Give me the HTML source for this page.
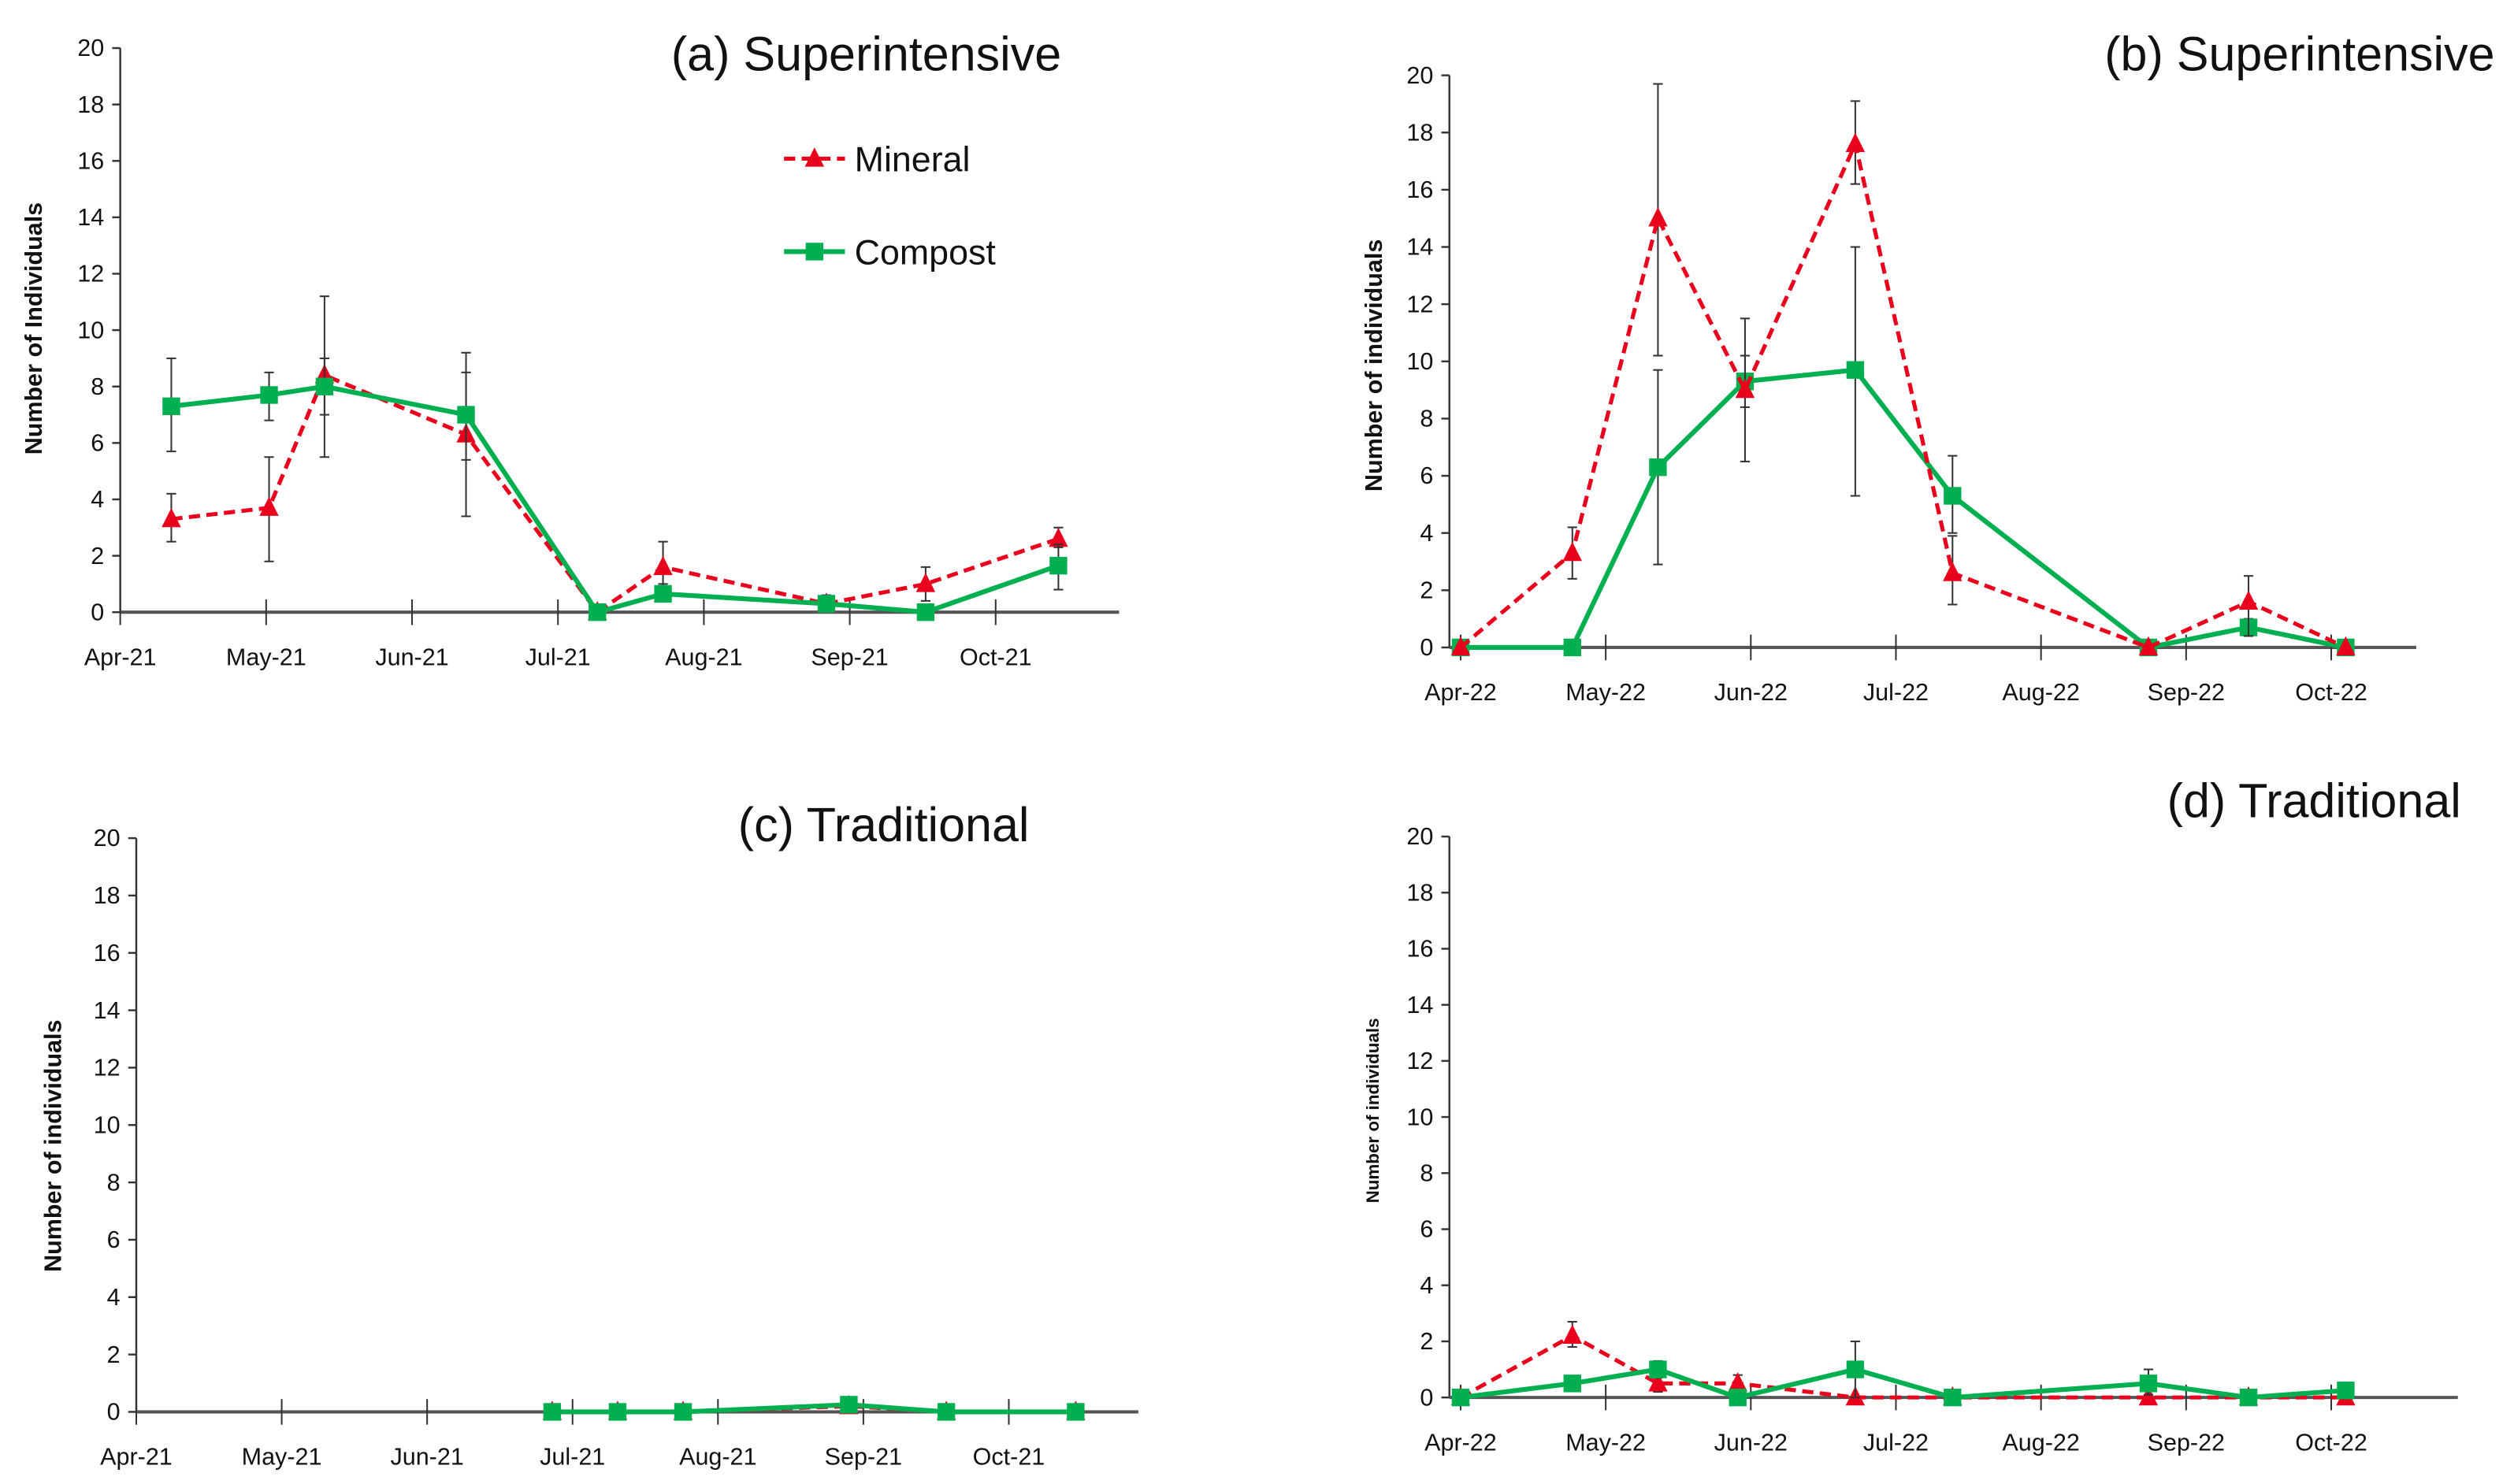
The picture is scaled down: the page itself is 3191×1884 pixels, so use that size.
<!DOCTYPE html>
<html><head><meta charset="utf-8"><style>
html,body{margin:0;padding:0;background:#fff;}
svg{display:block;}
text{font-family:"Liberation Sans Narrow","Liberation Sans",sans-serif;fill:#111;}
</style></head><body>
<svg id="fig" width="3191" height="1884" viewBox="0 0 1568 926" preserveAspectRatio="none" xmlns="http://www.w3.org/2000/svg"></svg>
<script>
// ---- Data (x in months since April) ----
const monthLabels21 = ["Apr-21","May-21","Jun-21","Jul-21","Aug-21","Sep-21","Oct-21"];
const monthLabels22 = ["Apr-22","May-22","Jun-22","Jul-22","Aug-22","Sep-22","Oct-22"];
const yTicks = [0,2,4,6,8,10,12,14,16,18,20];

const aDates = [0.35,1.02,1.4,2.37,3.27,3.72,4.84,5.52,6.43];
const aMineral = [3.3,3.7,8.4,6.3,0,1.6,0.3,1.0,2.6];
const aMineralLo = [2.5,1.8,5.5,3.4,0,0.7,0.3,0.4,2.3];
const aMineralHi = [4.2,5.5,11.2,8.5,0,2.5,0.6,1.6,3.0];
const aCompost = [7.3,7.7,8.0,7.0,0,0.65,0.3,0,1.65];
const aCompostLo = [5.7,6.8,7.0,5.4,0,0.5,0.2,0,0.8];
const aCompostHi = [9.0,8.5,9.0,9.2,0,1.0,0.6,0,2.4];

const bDates = [0,0.77,1.36,1.96,2.72,3.39,4.74,5.43,6.1];
const bMineral = [0,3.3,15,9,17.6,2.6,0,1.6,0];
const bMineralLo = [0,2.4,10.2,6.5,16.2,1.5,0,0.4,0];
const bMineralHi = [0,4.2,19.7,11.5,19.1,3.9,0,2.5,0];
const bCompost = [0,0,6.3,9.3,9.7,5.3,0,0.7,0];
const bCompostLo = [0,0,2.9,8.4,5.3,4.0,0,0.4,0];
const bCompostHi = [0,0,9.7,10.2,14.0,6.7,0,1.0,0];

const cDates = [2.86,3.31,3.76,4.9,5.57,6.46];
const cMineral = [0,0,0,0.2,0,0];
const cCompost = [0,0,0,0.25,0,0];
const cCompostLo = [0,0,0,0.15,0,0];
const cCompostHi = [0,0,0,0.35,0,0];

const dDates = [0,0.77,1.36,1.91,2.72,3.39,4.74,5.43,6.1];
const dMineral = [0,2.2,0.5,0.5,0,0,0,0,0];
const dMineralLo = [0,1.8,0.2,0.2,0,0,0,0,0];
const dMineralHi = [0,2.7,0.8,0.8,0,0,0,0,0];
const dCompost = [0,0.5,1.0,0,1.0,0,0.5,0,0.25];
const dCompostLo = [0,0.3,0.7,0,0,0,0.1,0,0.1];
const dCompostHi = [0,0.7,1.3,0,2.0,0,1.0,0,0.4];

const NS="http://www.w3.org/2000/svg";
const svg=document.getElementById('fig');
const RED="#e8001c", GREEN="#00b050";
function mk(tag,attrs,parent){const e=document.createElementNS(NS,tag);for(const k in attrs)e.setAttribute(k,attrs[k]);(parent||svg).appendChild(e);return e;}

function panel(id,p){
  const g=mk('g',{});
  
  
  const X=m=>p.mx0+m*p.mw;
  const Y=v=>p.y0-(v/20)*(p.y0-p.y20);
  // axes
  const ya=mk('line',{x1:p.x0,y1:p.y20,x2:p.x0,y2:p.y0,stroke:'#333','stroke-width':1.2},g);
  
  
  const xa=mk('line',{x1:p.x0,y1:p.y0,x2:p.xEnd,y2:p.y0,stroke:'#555','stroke-width':2},g);
  
  
  yTicks.forEach(t=>{
    mk('line',{x1:p.x0-5,y1:Y(t),x2:p.x0,y2:Y(t),stroke:'#333','stroke-width':1.2},g);
    const tx=mk('text',{x:p.x0-10,y:Y(t)+5,'text-anchor':'end','font-size':15},g);
    tx.textContent=t;
    
    
  });
  p.labels.forEach((l,i)=>{
    const x=X(i);
    mk('line',{x1:x,y1:p.y0-8,x2:x,y2:p.y0+8,stroke:'#333','stroke-width':1},g);
    const tx=mk('text',{x:x,y:p.y0+33,'text-anchor':'middle','font-size':15},g);
    tx.textContent=l;
    
    
  });
  const yt=mk('text',{x:0,y:0,'text-anchor':'middle','font-size':p.ytSize,'font-weight':'bold',transform:`translate(${p.ytx},${p.yty}) rotate(-90)`,style:'font-family:"Liberation Sans",sans-serif'},g);
  yt.textContent=p.ytitle;
  
  
  const tt=mk('text',{x:p.tx,y:p.ty,'text-anchor':'end','font-size':30},g);
  tt.textContent=p.title;
  
  
  function series(name,dates,vals,lo,hi,color,dash,marker,w){
    const sg=mk('g',{},g);
    
    
    if(lo){dates.forEach((d,i)=>{if(hi[i]-lo[i]<=0)return;const x=X(d);
      mk('line',{x1:x,y1:Y(lo[i]),x2:x,y2:Y(hi[i]),stroke:'#333','stroke-width':1},sg);
      mk('line',{x1:x-3,y1:Y(lo[i]),x2:x+3,y2:Y(lo[i]),stroke:'#333','stroke-width':1},sg);
      mk('line',{x1:x-3,y1:Y(hi[i]),x2:x+3,y2:Y(hi[i]),stroke:'#333','stroke-width':1},sg);});}
    const pts=dates.map((d,i)=>X(d)+','+Y(vals[i])).join(' ');
    const pl=mk('polyline',{points:pts,fill:'none',stroke:color,'stroke-width':w,'stroke-dasharray':dash||'none'},sg);
    
    
    dates.forEach((d,i)=>{const x=X(d),y=Y(vals[i]);let m;
      if(marker==='sq')m=mk('rect',{x:x-5.5,y:y-5.5,width:11,height:11,fill:color},sg);
      else m=mk('polygon',{points:`${x},${y-7} ${x-6},${y+5} ${x+6},${y+5}`,fill:color},sg);
      
      });
  }
  if(p.mineral)series('mineral',p.dates,p.mineral,p.mLo,p.mHi,RED,'7,4','tri',2.5);
  series('compost',p.cdates||p.dates,p.compost,p.cLo,p.cHi,GREEN,null,'sq',3);
  if(p.mineralTop)series('mineral',p.dates,p.mineralTop,p.mLo,p.mHi,RED,'7,4','tri',2.5);
}

panel('a',{x0:75,xEnd:698,y0:382,y20:30,mx0:75,mw:91,labels:monthLabels21,ytitle:'Number of Individuals',ytSize:15,ytx:26,yty:205,title:'(a) Superintensive',tx:662,ty:44,
  dates:aDates,mineral:aMineral,mLo:aMineralLo,mHi:aMineralHi,compost:aCompost,cLo:aCompostLo,cHi:aCompostHi});
panel('b',{x0:904,xEnd:1507,y0:404,y20:47,mx0:911,mw:90.5,labels:monthLabels22,ytitle:'Number of individuals',ytSize:15,ytx:862,yty:228,title:'(b) Superintensive',tx:1556,ty:44,
  dates:bDates,compost:bCompost,cLo:bCompostLo,cHi:bCompostHi,mineralTop:bMineral,mLo:bMineralLo,mHi:bMineralHi});
panel('c',{x0:85,xEnd:710,y0:881,y20:523,mx0:85,mw:90.7,labels:monthLabels21,ytitle:'Number of individuals',ytSize:15,ytx:38,yty:715,title:'(c) Traditional',tx:642,ty:525,
  dates:cDates,mineral:cMineral,compost:cCompost,cLo:cCompostLo,cHi:cCompostHi});
panel('d',{x0:904,xEnd:1533,y0:872,y20:522,mx0:911,mw:90.5,labels:monthLabels22,ytitle:'Number of individuals',ytSize:11,ytx:860,yty:693,title:'(d) Traditional',tx:1535,ty:510,
  dates:dDates,mineral:dMineral,mLo:dMineralLo,mHi:dMineralHi,compost:dCompost,cLo:dCompostLo,cHi:dCompostHi});

// legend
const lg=mk('g',{});


const l1=mk('g',{},lg);


mk('line',{x1:489,y1:99,x2:527,y2:99,stroke:RED,'stroke-width':2.5,'stroke-dasharray':'7,4'},l1);
mk('polygon',{points:'508,92 502,104 514,104',fill:RED},l1);
const t1=mk('text',{x:533,y:107,'font-size':22},l1);t1.textContent='Mineral';
const l2=mk('g',{},lg);


mk('line',{x1:489,y1:157,x2:527,y2:157,stroke:GREEN,'stroke-width':3},l2);
mk('rect',{x:502.5,y:151.5,width:11,height:11,fill:GREEN},l2);
const t2=mk('text',{x:533,y:165,'font-size':22},l2);t2.textContent='Compost';
</script>
</body></html>
